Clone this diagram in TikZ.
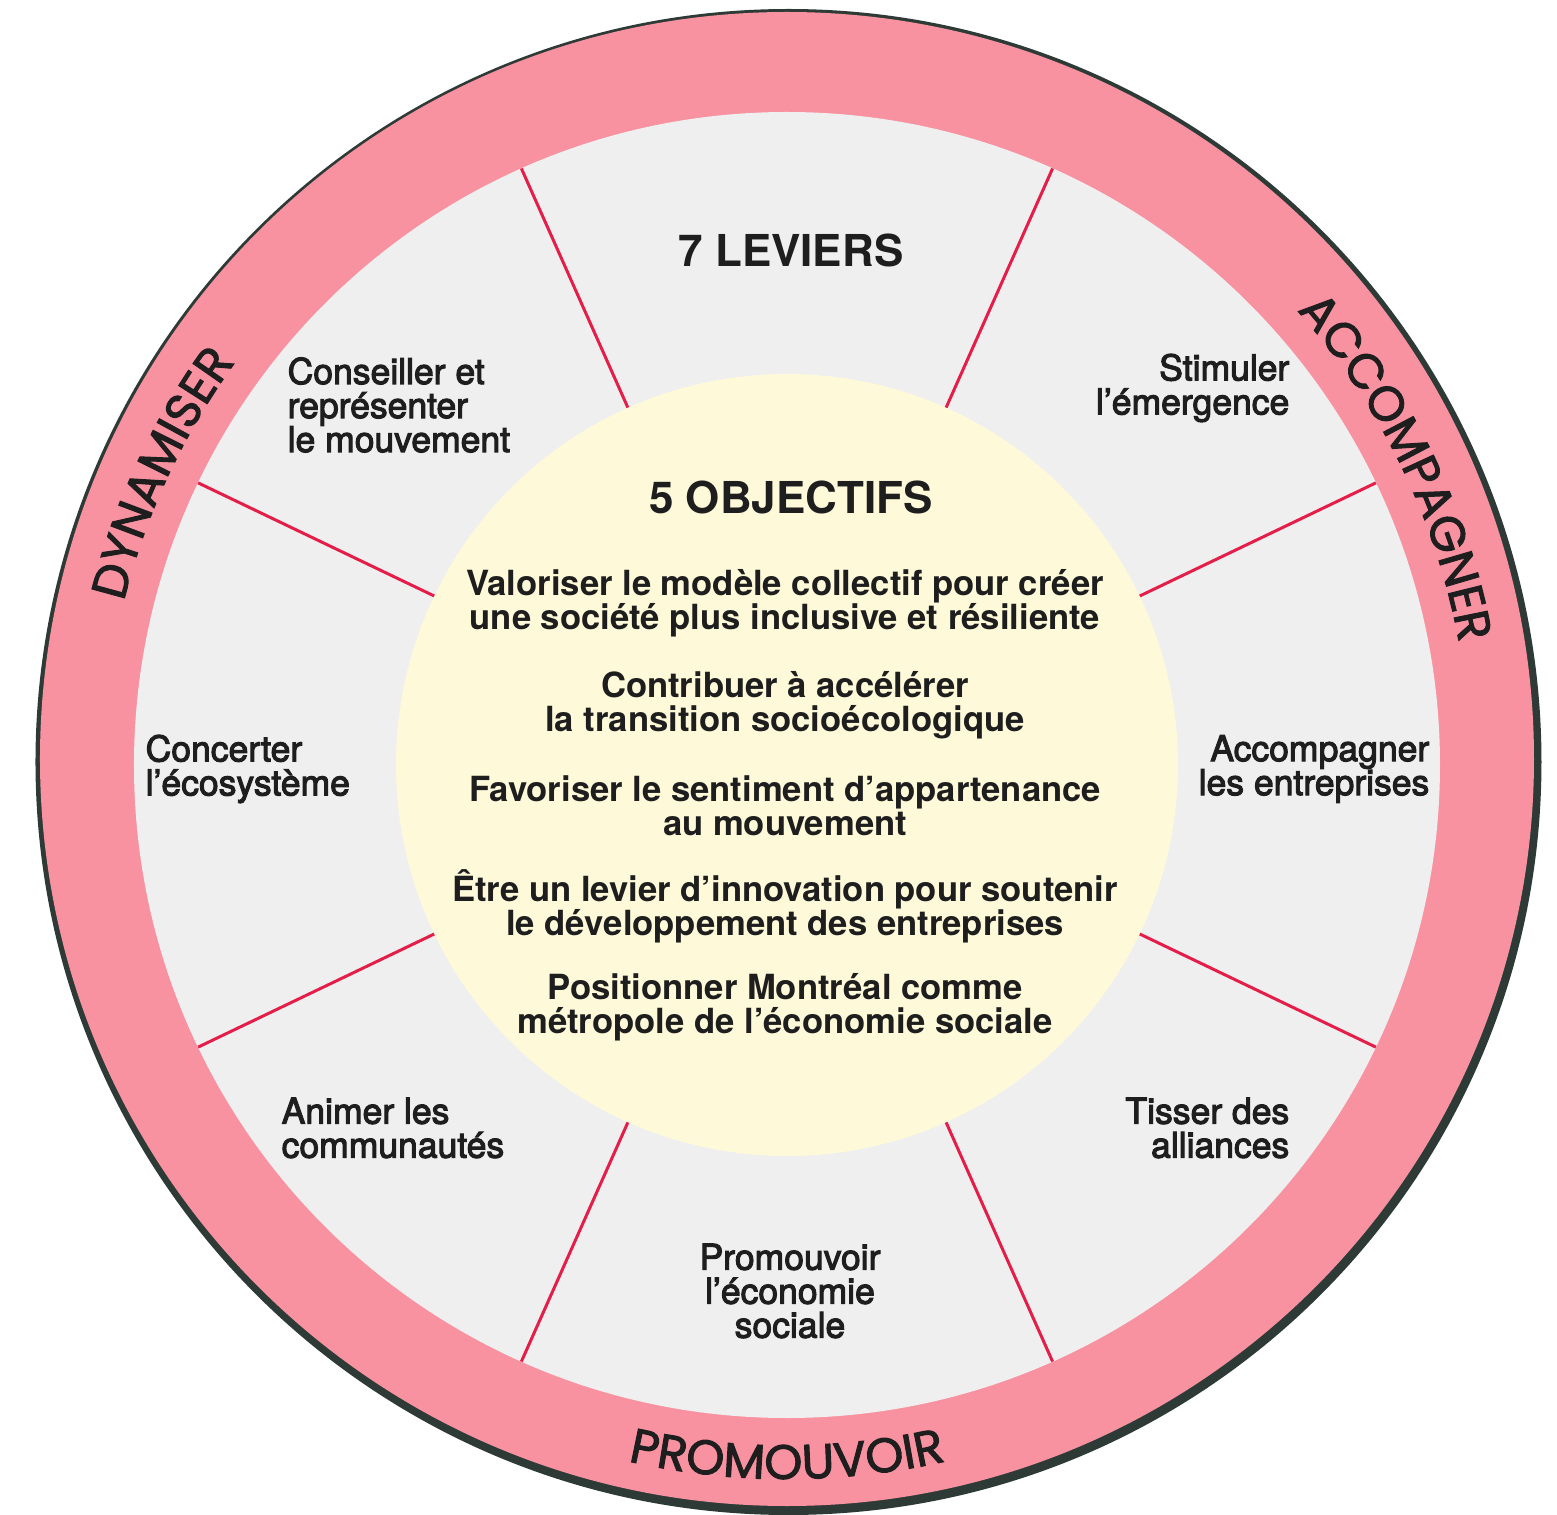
\documentclass[tikz,border=0pt]{standalone}
\usepackage{fontspec}
\setmainfont{TeX Gyre Heros}
\newfontfamily\ringfont[FakeBold=2]{Poppins}
\newfontfamily\levfont[FakeBold=3]{TeX Gyre Heros}
\usetikzlibrary{decorations.text}
\definecolor{ringpink}{RGB}{248,146,161}
\definecolor{sectorgray}{RGB}{239,239,240}
\definecolor{coreyellow}{RGB}{254,249,217}
\definecolor{divred}{RGB}{228,30,72}
\definecolor{rimdark}{RGB}{46,58,54}
\definecolor{inkdark}{RGB}{30,30,30}
\begin{document}
\begin{tikzpicture}[x=0.01cm,y=0.01cm,
  lever/.style={font=\levfont\fontsize{10.1}{9.67}\selectfont, text=inkdark, inner sep=0pt},
  objective/.style={font=\bfseries\fontsize{9.85}{9.67}\selectfont, text=inkdark, align=center, inner sep=0pt},
  heading/.style={font=\bfseries\fontsize{12.5}{14}\selectfont, text=inkdark, inner sep=0pt},
  divider/.style={divred, line width=0.85pt}
]
\useasboundingbox (-787,-750) rectangle (770,765);
% rings
\fill[rimdark] (1.5,3) circle[radius=753];
\fill[ringpink] (0,6) circle[radius=747];
\fill[sectorgray] (0,0) circle[radius=653];
\foreach \a in {25.6,66,114,154.4,-25.6,-66,-114,-154.4}
  \draw[divider] (\a:380) -- (\a:653);
\fill[coreyellow] (0,0) circle[radius=391];

% ring labels
\path[decorate, decoration={text along path, text align=center, text color=inkdark,
  text={|\ringfont\fontsize{13.8}{14}\selectfont|DYNAMISER}}]
  (200:683) arc[start angle=200, end angle=110, radius=683];
\path[decorate, decoration={text along path, text align=center, text color=inkdark,
  text={|\ringfont\fontsize{13.8}{14}\selectfont|ACCOMPAGNER}}]
  (71:683) arc[start angle=71, end angle=-19, radius=683];
\path[decorate, decoration={text along path, text align=center, text color=inkdark,
  text={|\ringfont\fontsize{13.8}{14}\selectfont|PROMOUVOIR}}]
  (-135:714) arc[start angle=-135, end angle=-45, radius=714];

% headings
\node[heading] (leviers) at (4,515) {7 LEVIERS};
\node[heading] (objectifs) at (4,268) {5 OBJECTIFS};

% objectives
\node[objective] (obj1) at (-2,162) {Valoriser le modèle collectif pour créer\\une société plus inclusive et résiliente};
\node[objective] (obj2) at (-2,60) {Contribuer à accélérer\\la transition socioécologique};
\node[objective] (obj3) at (-2,-41) {Favoriser le sentiment d’appartenance\\au mouvement};
\node[objective] (obj4) at (-2,-141) {Être un levier d’innovation pour soutenir\\le développement des entreprises};
\node[objective] (obj5) at (-2,-242) {Positionner Montréal comme\\métropole de l’économie sociale};

% levers
\node[lever, anchor=west, align=left] (conseiller) at (-500,360) {Conseiller et\\représenter\\le mouvement};
\node[lever, anchor=east, align=right] (stimuler) at (503,377) {Stimuler\\l’émergence};
\node[lever, anchor=west, align=left] (concerter) at (-642,-4) {Concerter\\l’écosystème};
\node[lever, anchor=east, align=right] (accompagner) at (643,-4) {Accompagner\\les entreprises};
\node[lever, anchor=west, align=left] (animer) at (-506,-363) {Animer les\\communautés};
\node[lever, anchor=east, align=right] (tisser) at (503,-363) {Tisser des\\alliances};
\node[lever, align=center] (promouvoir) at (3,-526) {Promouvoir\\l’économie\\sociale};
\end{tikzpicture}
\end{document}
